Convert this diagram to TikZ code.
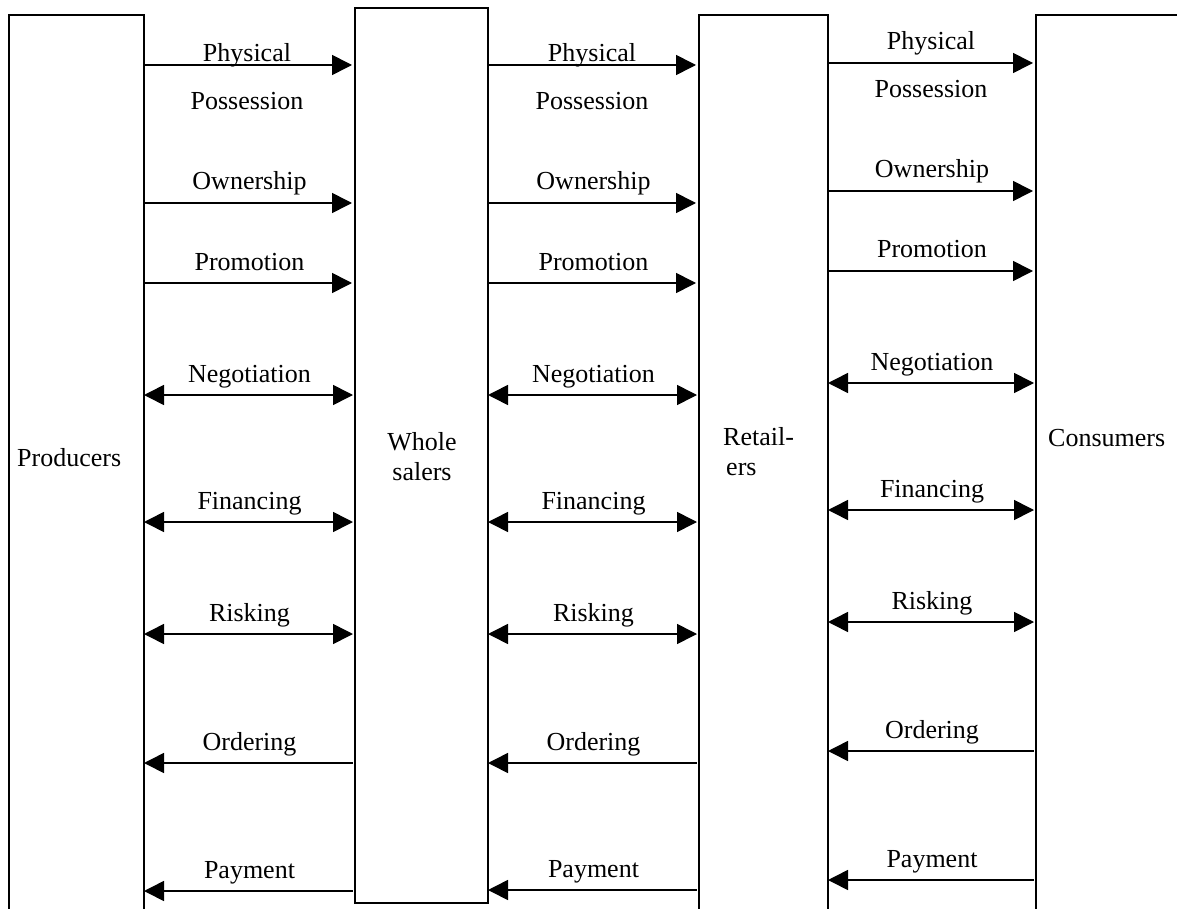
\documentclass[tikz,border=0pt]{standalone}
\usepackage{fontspec}
\setmainfont{Liberation Serif}
\usetikzlibrary{arrows.meta,calc}
\newcommand\myflow[6]{%
  \draw[#4] (#1.east |- 0,#3) -- (#2.west |- 0,#3);
  \node[lbl] (#6) at ($(#1.east |- 0,#3)!0.5!(#2.west |- 0,#3) + (0,-13)$) {#5};
}
\begin{document}
\begin{tikzpicture}[x=1pt,y=-1pt,
  box/.style={draw,line width=1.6pt,inner sep=0pt,outer sep=0pt,anchor=north west},
  lbl/.style={font=\fontsize{26}{30}\selectfont,inner sep=0pt,anchor=base},
  fl/.style={line width=1.6pt},
  rarr/.style={fl,-{Triangle[length=20pt,width=20pt]},shorten >=3pt},
  larr/.style={fl,{Triangle[length=20pt,width=20pt]}-,shorten >=2pt},
  barr/.style={fl,{Triangle[length=20pt,width=20pt]}-{Triangle[length=20pt,width=20pt]},shorten >=2pt}]
\useasboundingbox (0,0) rectangle (1177,909);
\clip (0,0) rectangle (1177,909);
\fill[white] (0,0) rectangle (1177,909);
% boxes
\node[box,minimum width=135pt,minimum height=950pt] (P) at (9,15) {};
\node[box,minimum width=133pt,minimum height=895pt] (W) at (355,8) {};
\node[box,minimum width=129pt,minimum height=950pt] (R) at (699,15) {};
\node[box,minimum width=300pt,minimum height=950pt] (C) at (1036,15) {};
% box labels
\node[lbl,anchor=base west] (tP) at (17,466) {Producers};
\node[lbl] (tW1) at (422,450) {Whole};
\node[lbl] (tW2) at (422,480) {salers};
\node[lbl,anchor=base west] (tR1) at (723,445) {Retail-};
\node[lbl,anchor=base west] (tR2) at (726,475) {ers};
\node[lbl,anchor=base west] (tC) at (1048,446) {Consumers};
% column 1
\draw[rarr] (P.east |- 0,65) -- (W.west |- 0,65);
\node[lbl] (a1) at (247,62) {Physical};
\node[lbl] (a1b) at (247,110) {Possession};
\myflow{P}{W}{203}{rarr}{Ownership}{a2}
\myflow{P}{W}{283}{rarr}{Promotion}{a3}
\myflow{P}{W}{395}{barr}{Negotiation}{a4}
\myflow{P}{W}{522}{barr}{Financing}{a5}
\myflow{P}{W}{634}{barr}{Risking}{a6}
\myflow{P}{W}{763}{larr}{Ordering}{a7}
\myflow{P}{W}{891}{larr}{Payment}{a8}
% column 2
\draw[rarr] (W.east |- 0,65) -- (R.west |- 0,65);
\node[lbl] (b1) at (592,62) {Physical};
\node[lbl] (b1b) at (592,110) {Possession};
\myflow{W}{R}{203}{rarr}{Ownership}{b2}
\myflow{W}{R}{283}{rarr}{Promotion}{b3}
\myflow{W}{R}{395}{barr}{Negotiation}{b4}
\myflow{W}{R}{522}{barr}{Financing}{b5}
\myflow{W}{R}{634}{barr}{Risking}{b6}
\myflow{W}{R}{763}{larr}{Ordering}{b7}
\myflow{W}{R}{890}{larr}{Payment}{b8}
% column 3
\draw[rarr] (R.east |- 0,63) -- (C.west |- 0,63);
\node[lbl] (c1) at (931,50) {Physical};
\node[lbl] (c1b) at (931,98) {Possession};
\myflow{R}{C}{191}{rarr}{Ownership}{c2}
\myflow{R}{C}{271}{rarr}{Promotion}{c3}
\myflow{R}{C}{383}{barr}{Negotiation}{c4}
\myflow{R}{C}{510}{barr}{Financing}{c5}
\myflow{R}{C}{622}{barr}{Risking}{c6}
\myflow{R}{C}{751}{larr}{Ordering}{c7}
\myflow{R}{C}{880}{larr}{Payment}{c8}
\end{tikzpicture}
\end{document}
